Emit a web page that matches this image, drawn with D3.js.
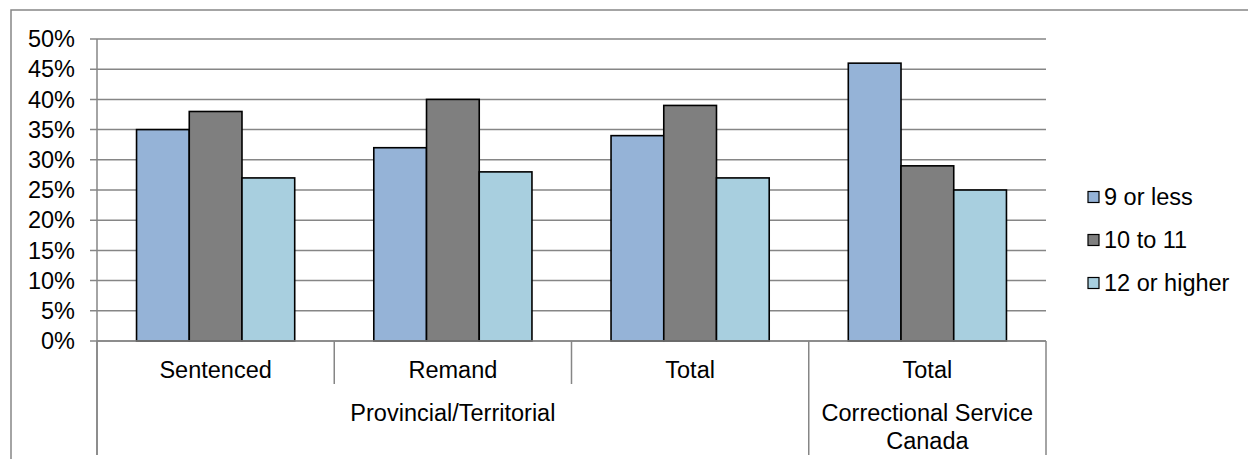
<!DOCTYPE html>
<html>
<head>
<meta charset="utf-8">
<script src="https://cdn.jsdelivr.net/npm/d3@7"></script>
<style>
  html, body { margin: 0; padding: 0; background: #fff; }
  svg { display: block; }
  text { font-family: "Liberation Sans", Arial, sans-serif; fill: #000; }
</style>
</head>
<body>
<svg id="chart" width="1248" height="459"></svg>
<script>
// ---- data ----
const categories = ["Sentenced", "Remand", "Total", "Total"];
const groupLabels = ["Provincial/Territorial", "Correctional Service Canada"];
const groupSpans = [3, 1];
const seriesNames = ["9 or less", "10 to 11", "12 or higher"];
const series9orLess = [35, 32, 34, 46];
const series10to11 = [38, 40, 39, 29];
const series12orHigher = [27, 28, 27, 25];
const yTicks = [0, 5, 10, 15, 20, 25, 30, 35, 40, 45, 50];
const seriesColors = ["#95b3d7", "#7f7f7f", "#a8cfdf"];

const seriesValues = [series9orLess, series10to11, series12orHigher];

(function () {
// ---- layout ----
const svg = d3.select("#chart");
const pL = 97, pR = 1046, pT = 39, pB = 341;
const fs = 23.5;
const gridColor = "#868686";

// outer border
svg.append("rect").attr("x", 11).attr("y", 10).attr("width", 1400).attr("height", 600)
  .attr("fill", "none").attr("stroke", gridColor).attr("stroke-width", 1.5);

const x = d3.scaleBand().domain(d3.range(categories.length)).range([pL, pR]).padding(0);
const xi = d3.scaleBand().domain(d3.range(seriesNames.length)).range([0, x.bandwidth()])
  .paddingInner(0).paddingOuter(0.75);
const y = d3.scaleLinear().domain([0, 50]).range([pB, pT]);

// gridlines
svg.append("g").selectAll("line").data(yTicks).join("line")
  .attr("x1", pL - 7).attr("x2", pR)
  .attr("y1", d => y(d)).attr("y2", d => y(d))
  .attr("stroke", gridColor).attr("stroke-width", 1.5);

// y tick labels
svg.append("g").selectAll("text").data(yTicks).join("text")
  .attr("x", pL - 22).attr("y", d => y(d))
  .attr("dy", "0.35em").attr("text-anchor", "end")
  .attr("font-size", fs)
  .text(d => d + "%");

// bars
const barData = [];
categories.forEach((c, ci) => {
  seriesValues.forEach((vals, si) => barData.push({ ci, si, v: vals[ci] }));
});
svg.append("g").selectAll("rect").data(barData).join("rect")
  .attr("x", d => x(d.ci) + xi(d.si))
  .attr("y", d => y(d.v))
  .attr("width", xi.bandwidth())
  .attr("height", d => y(0) - y(d.v))
  .attr("fill", d => seriesColors[d.si])
  .attr("stroke", "#000").attr("stroke-width", 1.6);

// axes lines
const axisG = svg.append("g").attr("stroke", gridColor).attr("stroke-width", 1.5);
axisG.append("line").attr("x1", pL).attr("x2", pL).attr("y1", pT).attr("y2", 455);
axisG.append("line").attr("x1", pL).attr("x2", pR).attr("y1", pB).attr("y2", pB);

const lvl1Bottom = 384, lvl2Bottom = 455;
// level-1 dividers
const bounds = d3.range(categories.length + 1).map(i => i < categories.length ? x(i) : pR);
bounds.forEach(b => {
  axisG.append("line").attr("x1", b).attr("x2", b).attr("y1", pB).attr("y2", lvl1Bottom);
});
// level-2 dividers
let acc = 0;
const groupBounds = [pL];
groupSpans.forEach(s => { acc += s; groupBounds.push(acc < categories.length ? x(acc) : pR); });
groupBounds.forEach(b => {
  axisG.append("line").attr("x1", b).attr("x2", b).attr("y1", lvl1Bottom).attr("y2", lvl2Bottom);
});

// category labels
svg.append("g").selectAll("text").data(categories).join("text")
  .attr("x", (d, i) => x(i) + x.bandwidth() / 2)
  .attr("y", 370).attr("dy", "0.35em")
  .attr("text-anchor", "middle").attr("font-size", fs)
  .text(d => d);

// group labels
groupLabels.forEach((g, gi) => {
  const cx = (groupBounds[gi] + groupBounds[gi + 1]) / 2;
  const t = svg.append("text").attr("x", cx).attr("y", 413)
    .attr("text-anchor", "middle").attr("font-size", fs);
  if (g === "Correctional Service Canada") {
    t.append("tspan").attr("x", cx).attr("dy", "0.35em").text("Correctional Service");
    t.append("tspan").attr("x", cx).attr("dy", 28).text("Canada");
  } else {
    t.attr("dy", "0.35em").text(g);
  }
});

// legend
const legend = svg.append("g");
seriesNames.forEach((n, i) => {
  const ly = 197 + i * 43;
  legend.append("rect").attr("x", 1088).attr("y", ly - 5.5).attr("width", 11).attr("height", 11)
    .attr("fill", seriesColors[i]).attr("stroke", "#000").attr("stroke-width", 1.2);
  legend.append("text").attr("x", 1104).attr("y", ly).attr("dy", "0.35em")
    .attr("font-size", fs).text(n);
});
})();
</script>
</body>
</html>
